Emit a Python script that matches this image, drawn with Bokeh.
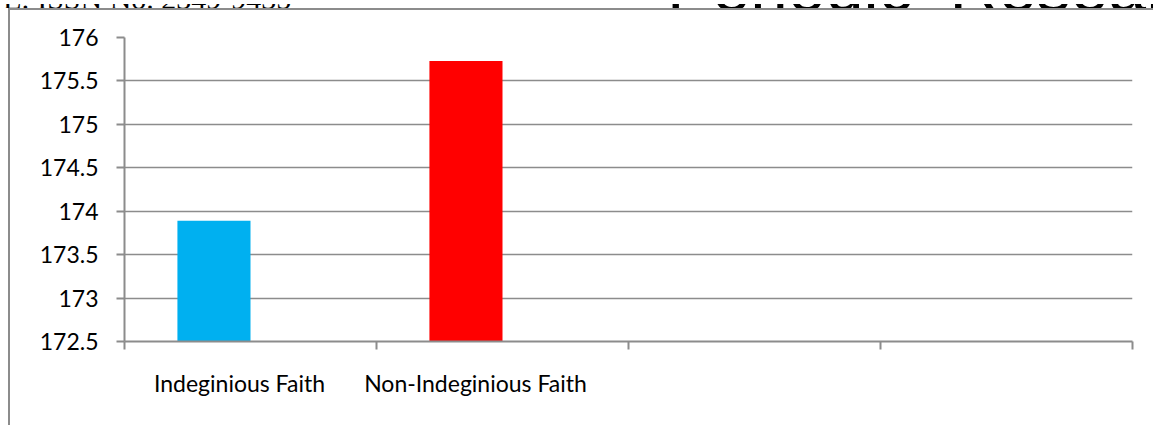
from bokeh.plotting import figure
from bokeh.layouts import column
from bokeh.models import FixedTicker, Div, InlineStyleSheet
from bokeh.embed import file_html
from bokeh.resources import INLINE

# Mean values per faith group
categories = ["Indeginious Faith", "Non-Indeginious Faith", "", ""]
values = [173.89, 175.73]
bar_colors = ["#00B0F0", "#FF0000"]
y_ticks = [172.5, 173, 173.5, 174, 174.5, 175, 175.5, 176]
header_left = "E: ISSN No. 2349-9435"
header_right = "Periodic Research"

FONT = "Lato"
GRID = "#8C8C8C"
SLOT_PX = 252  # width of one category slot in pixels
HEADER_H = 8   # strip of page header visible above the chart box

# Page header: only the lower edge of the running header line is visible
header_html = f"""
<div style="position:relative;width:1153px;height:{HEADER_H}px;overflow:hidden;">
  <span style="position:absolute;left:3px;top:-20px;white-space:nowrap;
               font-family:'Liberation Serif';font-size:30px;line-height:1;color:#000;">{header_left}</span>
  <span style="position:absolute;left:667px;top:-51px;white-space:nowrap;word-spacing:18px;
               font-family:'Liberation Sans';font-size:68px;line-height:1;color:#000;">{header_right}</span>
</div>
"""
header = Div(text=header_html, width=1153, height=HEADER_H, margin=0,
             styles={"overflow": "hidden"})

p = figure(
    width=1153, height=425 - HEADER_H,
    x_range=(0, len(categories)), y_range=(y_ticks[0], y_ticks[-1]),
    output_backend="svg", toolbar_location=None,
    min_border_left=124, min_border_right=21,
    min_border_top=37 - HEADER_H, min_border_bottom=84,
    margin=0,
)
p.outline_line_color = None
p.background_fill_color = "white"
p.border_fill_color = "white"

# Chart area box: left and top edges of the frame drawn round the chart
p.stylesheets = [InlineStyleSheet(css=f"""
:host {{ position: relative; }}
:host::after {{
  content: "";
  position: absolute;
  left: 8px; top: 0px; right: 0px; bottom: 0px;
  border-left: 2px solid {GRID};
  border-top: 2px solid {GRID};
  pointer-events: none;
}}
""")]

# Bars sit on the left half of each category slot (second series slot is empty)
bar_w = 0.29
xs = [i + 0.5 - bar_w / 2 for i in range(len(values))]
p.vbar(x=xs, top=values, bottom=y_ticks[0], width=bar_w,
       fill_color=bar_colors, line_color=None)

# Y axis
p.yaxis.ticker = FixedTicker(ticks=y_ticks)
p.yaxis.major_label_overrides = {t: f"{t:g}" for t in y_ticks}
p.yaxis.axis_line_color = GRID
p.yaxis.axis_line_width = 2
p.yaxis.major_tick_line_color = GRID
p.yaxis.major_tick_line_width = 2
p.yaxis.major_tick_in = 0
p.yaxis.major_tick_out = 8
p.yaxis.minor_tick_line_color = None
p.yaxis.major_label_standoff = 18
p.yaxis.major_label_text_font = FONT
p.yaxis.major_label_text_font_size = "23px"
p.yaxis.major_label_text_color = "black"

# X axis: tick marks on the category boundaries (minor ticks),
# category names at the slot middles (major ticks without marks)
bounds = list(range(len(categories) + 1))
name_offsets = [-11, -27]
name_pos = [i + 0.5 + off / SLOT_PX for i, off in enumerate(name_offsets)]
p.xaxis.ticker = FixedTicker(ticks=name_pos, minor_ticks=bounds)
p.xaxis.major_label_overrides = {pos: categories[i] for i, pos in enumerate(name_pos)}
p.xaxis.axis_line_color = GRID
p.xaxis.axis_line_width = 2
p.xaxis.major_tick_line_color = None
p.xaxis.major_tick_in = 0
p.xaxis.major_tick_out = 0
p.xaxis.minor_tick_line_color = GRID
p.xaxis.minor_tick_line_width = 2
p.xaxis.minor_tick_in = 0
p.xaxis.minor_tick_out = 8
p.xaxis.major_label_standoff = 19
p.xaxis.major_label_text_font = FONT
p.xaxis.major_label_text_font_size = "23px"
p.xaxis.major_label_text_color = "black"

p.xgrid.grid_line_color = None
p.ygrid.ticker = FixedTicker(ticks=y_ticks)
p.ygrid.grid_line_color = GRID
p.ygrid.grid_line_width = 1.5

page = column(header, p, spacing=0, margin=0)
open("out.html", "w").write(file_html(page, INLINE))
